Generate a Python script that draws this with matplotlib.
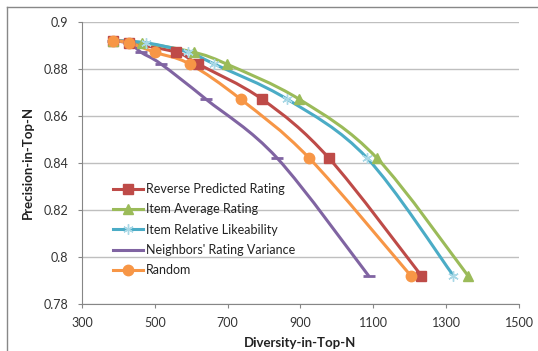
import numpy as np
import matplotlib
matplotlib.use('Agg')
import matplotlib.pyplot as plt
from matplotlib.path import Path
from matplotlib.patches import PathPatch
from matplotlib.lines import Line2D

plt.rcParams['font.family'] = ['Lato', 'DejaVu Sans']

# 数据
precision = [0.892, 0.891, 0.887, 0.882, 0.867, 0.842, 0.792]
div_reverse = [384, 429, 559, 619, 795, 978, 1232]
div_item_avg = [384, 466, 607, 697, 897, 1110, 1360]
div_item_rel = [384, 477, 592, 663, 864, 1083, 1320]
div_neighbors = [384, 430, 462, 517, 641, 836, 1087]
div_random = [384, 430, 500, 596, 736, 924, 1203]

labels = ['Reverse Predicted Rating', 'Item Average Rating', 'Item Relative Likeability',
          "Neighbors' Rating Variance", 'Random']
x_ticks = [300, 500, 700, 900, 1100, 1300, 1500]
y_ticks = [0.78, 0.8, 0.82, 0.84, 0.86, 0.88, 0.9]
y_ticklabels = ['0.78', '0.8', '0.82', '0.84', '0.86', '0.88', '0.9']


def smooth_path(xs, ys):
    # Excel风格的平滑曲线 (Catmull-Rom -> Bezier)
    pts = np.column_stack([xs, ys]).astype(float)
    n = len(pts)
    verts = [pts[0]]
    codes = [Path.MOVETO]
    t = 1.0 / 6.0
    for i in range(n - 1):
        p0 = pts[i - 1] if i > 0 else pts[i]
        p1 = pts[i]
        p2 = pts[i + 1]
        p3 = pts[i + 2] if i + 2 < n else pts[i + 1]
        c1 = p1 + (p2 - p0) * t
        c2 = p2 - (p3 - p1) * t
        verts += [c1, c2, p2]
        codes += [Path.CURVE4] * 3
    return Path(verts, codes)


fig = plt.figure(figsize=(5.38, 3.51), dpi=100)
ax = fig.add_axes([0.1524, 0.1339, 0.8123, 0.8043])

series = [
    (div_reverse, '#BE4B48', dict(marker='s', markersize=7.5, mec='#BE4B48', mfc='#BE4B48')),
    (div_item_avg, '#9BBB59', dict(marker='^', markersize=7.5, mec='#9BBB59', mfc='#9BBB59')),
    (div_item_rel, '#4BACC6', dict(marker=(6, 2, 0), markersize=7.5, mec='#A9D8E6', mew=1.0)),
    (div_neighbors, '#8064A2', dict(marker='_', markersize=8, mec='#8064A2', mew=2)),
    (div_random, '#F79646', dict(marker='o', markersize=7.5, mec='#F79646', mfc='#F79646')),
]

handles = []
for (xs, color, mk), lab in zip(series, labels):
    patch = PathPatch(smooth_path(xs, precision), fill=False, edgecolor=color, lw=2.2,
                      zorder=3, capstyle='round', joinstyle='round')
    ax.add_patch(patch)
    ax.plot(xs, precision, linestyle='none', zorder=4, **mk)
    handles.append(Line2D([], [], color=color, lw=2.2, **mk))

ax.set_xlim(300, 1500)
ax.set_ylim(0.78, 0.9)
ax.set_xticks(x_ticks)
ax.set_yticks(y_ticks)
ax.set_yticklabels(y_ticklabels)
ax.grid(axis='y', color='#BFBFBF', lw=1.0)
ax.set_axisbelow(True)

for s in ['top', 'right']:
    ax.spines[s].set_visible(False)
for s in ['left', 'bottom']:
    ax.spines[s].set_color('#868686')
    ax.spines[s].set_linewidth(0.8)
ax.tick_params(axis='both', colors='#868686', labelcolor='#333333', labelsize=9,
               length=3, width=0.8, direction='out')
ax.tick_params(axis='x', pad=6)
ax.tick_params(axis='y', pad=7)

ax.set_xlabel('Diversity-in-Top-N', fontsize=9.5, fontweight='bold', color='#222222', labelpad=6)
ax.set_ylabel('Precision-in-Top-N', fontsize=9.5, fontweight='bold', color='#222222', labelpad=7)

ax.legend(handles, labels, loc='upper left', bbox_to_anchor=(0.071, 0.428), frameon=False,
          fontsize=9, handlelength=2.4, handletextpad=0.25, labelspacing=0.66,
          borderaxespad=0, borderpad=0, labelcolor='#222222')

# 外框
fig.add_artist(Line2D([7 / 538, 1], [1 - 7 / 351, 1 - 7 / 351], color='#888888', lw=1,
                      transform=fig.transFigure))
fig.add_artist(Line2D([7 / 538, 7 / 538], [0, 1 - 7 / 351], color='#888888', lw=1,
                      transform=fig.transFigure))

plt.savefig('out.png', dpi=100)
